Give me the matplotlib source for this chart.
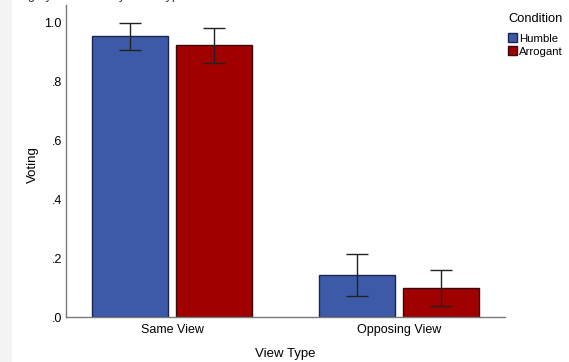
import numpy as np
import matplotlib
matplotlib.use("Agg")
import matplotlib.pyplot as plt
from matplotlib.patches import Rectangle, Patch

plt.rcParams["font.family"] = ["Liberation Sans", "DejaVu Sans"]

view_types = ["Same View", "Opposing View"]
conditions = ["Humble", "Arrogant"]
means = {
    "Humble": [0.952, 0.142],
    "Arrogant": [0.921, 0.098],
}
errors = {
    "Humble": [0.046, 0.071],
    "Arrogant": [0.058, 0.060],
}
fills = {"Humble": "#3d5aa8", "Arrogant": "#a00000"}
edges = {"Humble": "#1c2550", "Arrogant": "#3a0a0a"}
y_ticks = [0.0, 0.2, 0.4, 0.6, 0.8, 1.0]
y_tick_labels = [".0", ".2", ".4", ".6", ".8", "1.0"]

fig = plt.figure(figsize=(5.69, 3.62), dpi=100)
fig.patches.append(Rectangle((0, 0), 12 / 569, 1, transform=fig.transFigure,
                             facecolor="#f3f3f3", edgecolor="none", zorder=0))

ax = fig.add_axes([66 / 569, 45 / 362, 439 / 569, 312 / 362])

x = np.arange(len(view_types))
width = 0.335
offsets = [-0.185, 0.185]
for cond, off in zip(conditions, offsets):
    ax.bar(x + off, means[cond], width, color=fills[cond], edgecolor=edges[cond],
           linewidth=1.0, zorder=2)
    ax.errorbar(x + off, means[cond], yerr=errors[cond], fmt="none", ecolor="#222222",
                elinewidth=1.0, capsize=8, capthick=1.0, zorder=3)

ax.set_xlim(-0.467, 1.467)
ax.set_ylim(0, 1.058)
ax.set_xticks(x)
ax.set_xticklabels(view_types, fontsize=9)
ax.set_yticks(y_ticks)
ax.set_yticklabels(y_tick_labels, fontsize=9)
ax.tick_params(axis="x", length=0, pad=5)
ax.tick_params(axis="y", length=0, pad=3)

for side in ["top", "right"]:
    ax.spines[side].set_visible(False)
for side in ["left", "bottom"]:
    ax.spines[side].set_color("#7a7a7a")
    ax.spines[side].set_linewidth(1.0)

ax.set_xlabel("View Type", fontsize=9.5)
ax.xaxis.set_label_coords(0.5, -0.119)
ax.xaxis.label.set_va("center")
ax.set_ylabel("Voting", fontsize=9.5)
ax.yaxis.set_label_coords(-0.076, 0.487)
ax.yaxis.label.set_va("center")

# chart title sits just above the top edge
fig.text(0.0, 1.0 + 1 / 362, "Voting by Condition by View Type", fontsize=9,
         va="baseline", ha="left", color="#333333")

handles = [Patch(facecolor=fills[c], edgecolor=edges[c]) for c in conditions]
leg = fig.legend(handles, conditions, title="Condition", loc="upper left",
                 bbox_to_anchor=(508 / 569, 1 - 13 / 362), frameon=False,
                 fontsize=8.2, title_fontsize=9.3, handlelength=0.8,
                 handleheight=0.85, handletextpad=0.2, labelspacing=0.2,
                 borderpad=0, borderaxespad=0)
leg._legend_box.sep = 6

fig.savefig("out.png", dpi=100, facecolor="white")
